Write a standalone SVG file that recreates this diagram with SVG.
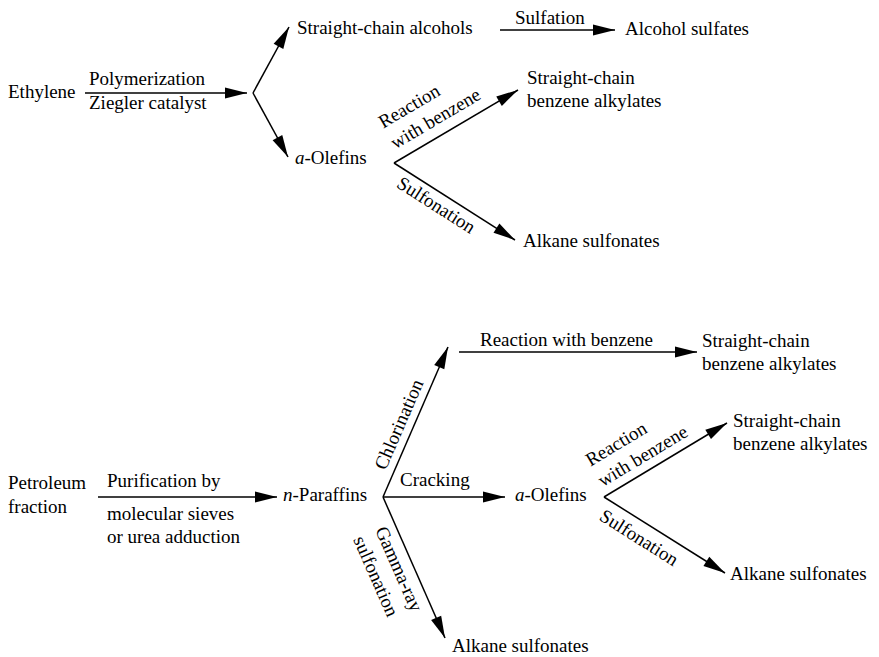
<svg xmlns="http://www.w3.org/2000/svg" width="879" height="657" viewBox="0 0 879 657">
<defs>
<style>
text{font-family:"Liberation Serif","Times New Roman",serif;font-size:19px;fill:#000}
.c line,.c polyline{stroke:#000;stroke-width:1.5;fill:none}
.a{marker-end:url(#ah)}
</style>
<marker id="ah" markerUnits="userSpaceOnUse" markerWidth="22" markerHeight="11" refX="22" refY="5.5" orient="auto" overflow="visible">
<path d="M0,0 L22,5.5 L0,11 z" fill="#000"/>
</marker>
</defs>
<rect width="879" height="657" fill="#fff"/>
<g class="c" id="connectors">
<line class="a" x1="85" y1="93" x2="247" y2="93"/>
<line class="a" x1="253" y1="93" x2="289" y2="27"/>
<line class="a" x1="253" y1="93" x2="288" y2="157"/>
<line class="a" x1="500" y1="30" x2="615" y2="30"/>
<line class="a" x1="394" y1="163" x2="518" y2="90"/>
<line class="a" x1="394" y1="163" x2="515" y2="240"/>
<line class="a" x1="98" y1="497" x2="277" y2="497"/>
<line class="a" x1="383" y1="497" x2="448" y2="347"/>
<line class="a" x1="383" y1="497" x2="505" y2="497"/>
<line class="a" x1="383" y1="497" x2="445" y2="638"/>
<line class="a" x1="459" y1="352" x2="697" y2="352"/>
<line class="a" x1="604" y1="497" x2="727" y2="423"/>
<line class="a" x1="604" y1="497" x2="725" y2="573"/>
</g>
<g id="labels">
<text x="89" y="85">Polymerization</text>
<text x="89" y="109">Ziegler catalyst</text>
<text x="515" y="24">Sulfation</text>
<g transform="translate(394,163) rotate(-30.5)"><text x="8" y="-35">Reaction</text><text x="8" y="-11">with benzene</text></g>
<g transform="translate(394,163) rotate(32.5)"><text x="14" y="19">Sulfonation</text></g>
<text x="107" y="487">Purification by</text>
<text x="107" y="520">molecular sieves</text>
<text x="107" y="543">or urea adduction</text>
<g transform="translate(383,497) rotate(-66.6)"><text x="25" y="-8">Chlorination</text></g>
<text x="400" y="486">Cracking</text>
<g transform="translate(383,497) rotate(66.3)"><text x="27" y="20.5">Gamma-ray</text><text x="27" y="44.5">sulfonation</text></g>
<text x="480" y="346">Reaction with benzene</text>
<g transform="translate(604,497) rotate(-31)"><text x="4" y="-33">Reaction</text><text x="4" y="-9">with benzene</text></g>
<g transform="translate(604,497) rotate(32.1)"><text x="7" y="22">Sulfonation</text></g>
</g>
<g id="ethylene"><text x="8" y="98">Ethylene</text></g>
<g id="alcohols"><text x="297" y="34">Straight-chain alcohols</text></g>
<g id="alcohol-sulfates"><text x="625" y="35">Alcohol sulfates</text></g>
<g id="olefins-1"><text x="295" y="164"><tspan font-style="italic">a</tspan>-Olefins</text></g>
<g id="alkylates-1"><text x="527" y="84">Straight-chain</text><text x="527" y="107">benzene alkylates</text></g>
<g id="alkane-sulfonates-1"><text x="523" y="247">Alkane sulfonates</text></g>
<g id="petroleum"><text x="8" y="489">Petroleum</text><text x="8" y="513">fraction</text></g>
<g id="paraffins"><text x="283" y="501"><tspan font-style="italic">n</tspan>-Paraffins</text></g>
<g id="alkylates-2"><text x="702" y="347">Straight-chain</text><text x="702" y="370">benzene alkylates</text></g>
<g id="olefins-2"><text x="515" y="501"><tspan font-style="italic">a</tspan>-Olefins</text></g>
<g id="alkylates-3"><text x="733" y="427">Straight-chain</text><text x="733" y="450">benzene alkylates</text></g>
<g id="alkane-sulfonates-2"><text x="730" y="580">Alkane sulfonates</text></g>
<g id="alkane-sulfonates-3"><text x="452" y="652">Alkane sulfonates</text></g>
</svg>
